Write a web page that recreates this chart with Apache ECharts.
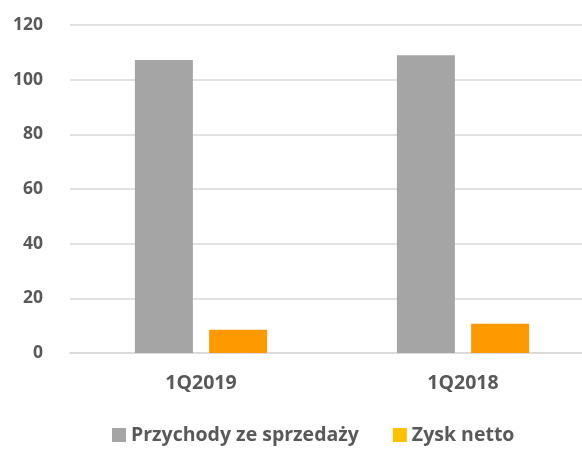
<!DOCTYPE html>
<html>
<head>
<meta charset="utf-8">
<script src="https://cdn.jsdelivr.net/npm/echarts@6/dist/echarts.min.js"></script>
<style>
  html, body { margin: 0; padding: 0; background: #fff; }
  #chart { width: 582px; height: 449px; }
</style>
</head>
<body>
<div id="chart"></div>
<script>
const categories = ['1Q2019', '1Q2018'];
const przychody = [107.2, 108.9];
const zysk = [8.5, 10.7];
const yTicks = { min: 0, max: 120, interval: 20 };

const textColor = '#595959';
const font = 'Open Sans';

const chart = echarts.init(document.getElementById('chart'));
chart.setOption({
  animation: false,
  backgroundColor: '#fff',
  grid: { left: 70, top: 25, width: 524, height: 328, outerBoundsMode: 'none' },
  legend: {
    left: 107,
    top: 420,
    itemWidth: 14,
    itemHeight: 14,
    itemGap: 34,
    icon: 'rect',
    textStyle: { color: textColor, fontFamily: font, fontWeight: 700, fontSize: 19.5 },
    data: [
      { name: 'Przychody ze sprzedaży' },
      { name: 'Zysk netto', itemStyle: { color: '#FFC000' } }
    ]
  },
  xAxis: {
    type: 'category',
    data: categories,
    axisLine: { lineStyle: { color: '#d9d9d9', width: 1.5 } },
    axisTick: { show: false },
    axisLabel: { color: textColor, fontFamily: font, fontWeight: 700, fontSize: 19.5, margin: 20 }
  },
  yAxis: {
    type: 'value',
    min: yTicks.min,
    max: yTicks.max,
    interval: yTicks.interval,
    axisLine: { show: false },
    axisTick: { show: false },
    axisLabel: { color: textColor, fontFamily: font, fontWeight: 700, fontSize: 17.5, margin: 27 },
    splitLine: { lineStyle: { color: '#d9d9d9', width: 1.5 } }
  },
  series: [
    {
      name: 'Przychody ze sprzedaży',
      type: 'bar',
      data: przychody,
      barWidth: 58,
      barGap: '28%',
      itemStyle: { color: '#A5A5A5' }
    },
    {
      name: 'Zysk netto',
      type: 'bar',
      data: zysk,
      barWidth: 58,
      itemStyle: { color: '#FF9900' }
    }
  ]
});
</script>
</body>
</html>
